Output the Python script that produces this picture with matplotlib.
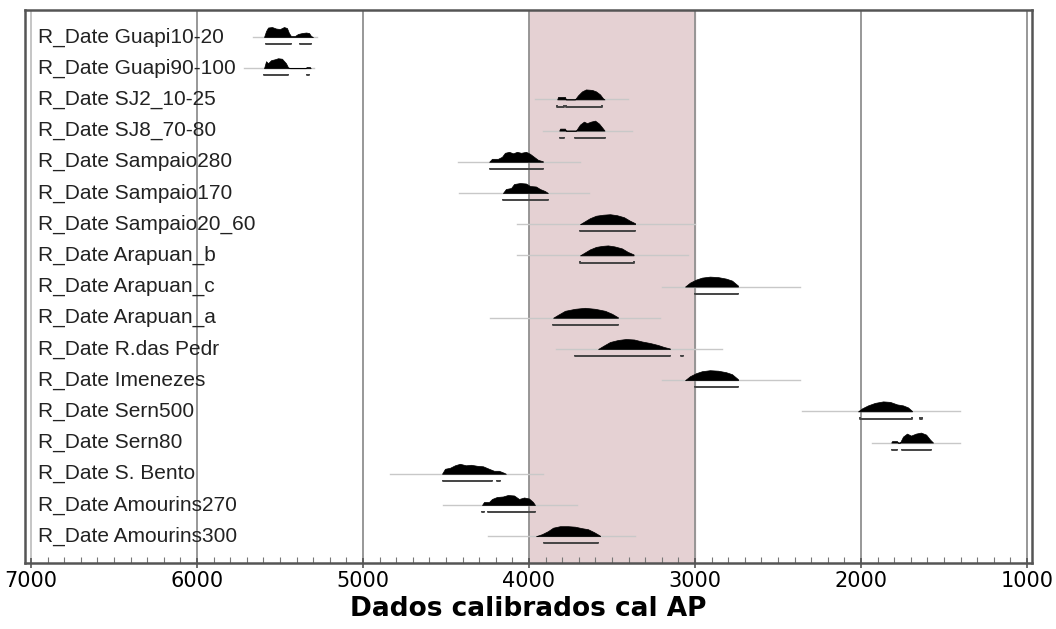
import matplotlib.pyplot as plt
from matplotlib.ticker import MultipleLocator

labels = ['R_Date Guapi10-20', 'R_Date Guapi90-100', 'R_Date SJ2_10-25', 'R_Date SJ8_70-80',
          'R_Date Sampaio280', 'R_Date Sampaio170', 'R_Date Sampaio20_60', 'R_Date Arapuan_b',
          'R_Date Arapuan_c', 'R_Date Arapuan_a', 'R_Date R.das Pedr', 'R_Date Imenezes',
          'R_Date Sern500', 'R_Date Sern80', 'R_Date S. Bento', 'R_Date Amourins270',
          'R_Date Amourins300']

# extent of the thin grey line under each distribution (cal BP)
prior_start = [5663, 5717, 3964, 3916, 4428, 4422, 4072, 4072, 3199, 4235, 3837, 3199, 2355, 1934, 4837, 4518, 4247]
prior_end = [5277, 5295, 3404, 3380, 3693, 3639, 3000, 3042, 2367, 3211, 2837, 2367, 1404, 1404, 3916, 3711, 3361]

# probability profiles: years and relative heights
profile_years = [
    [5596, 5584, 5572, 5548, 5524, 5500, 5476, 5458, 5446, 5434, 5410, 5392, 5367, 5343, 5325, 5313, 5301],
    [5596, 5584, 5572, 5554, 5530, 5512, 5488, 5464, 5452, 5440, 5345, 5340, 5320, 5315],
    [3830, 3825, 3783, 3778, 3723, 3705, 3681, 3657, 3620, 3596, 3572, 3554, 3545],
    [3818, 3813, 3783, 3778, 3717, 3693, 3669, 3651, 3627, 3602, 3578, 3554, 3545],
    [4240, 4223, 4187, 4163, 4145, 4120, 4096, 4072, 4048, 4018, 3994, 3970, 3946, 3916],
    [4157, 4139, 4108, 4090, 4054, 4018, 3994, 3958, 3934, 3904, 3886],
    [3693, 3663, 3633, 3596, 3554, 3512, 3470, 3428, 3392, 3361],
    [3693, 3663, 3633, 3596, 3560, 3525, 3485, 3440, 3405, 3370],
    [3060, 3030, 2994, 2958, 2910, 2861, 2813, 2777, 2741],
    [3855, 3825, 3783, 3723, 3663, 3602, 3542, 3500, 3464],
    [3584, 3554, 3512, 3464, 3416, 3367, 3319, 3271, 3223, 3187, 3151],
    [3060, 3030, 2994, 2958, 2910, 2861, 2813, 2777, 2741],
    [2018, 1994, 1958, 1916, 1867, 1825, 1783, 1747, 1717, 1693],
    [1818, 1813, 1783, 1778, 1765, 1747, 1723, 1699, 1669, 1639, 1608, 1584, 1566],
    [4524, 4506, 4476, 4446, 4416, 4380, 4349, 4313, 4277, 4241, 4211, 4181, 4151, 4139],
    [4283, 4271, 4241, 4223, 4193, 4157, 4127, 4090, 4060, 4030, 4000, 3976, 3964],
    [3958, 3922, 3886, 3855, 3813, 3765, 3723, 3681, 3645, 3608, 3572],
]
profile_heights = [
    [0, 0.6, 0.95, 1.0, 0.85, 0.8, 1.0, 0.9, 0.4, 0.1, 0.1, 0.3, 0.4, 0.45, 0.4, 0.1, 0],
    [0, 0.7, 0.5, 0.8, 0.9, 1.0, 0.95, 0.5, 0.1, 0, 0, 0.12, 0.12, 0],
    [0, 0.25, 0.25, 0, 0, 0.4, 0.8, 1.0, 0.95, 0.8, 0.5, 0.1, 0],
    [0, 0.2, 0.2, 0, 0, 0.6, 0.9, 0.75, 0.9, 1.0, 0.7, 0.2, 0],
    [0, 0.3, 0.3, 0.5, 0.9, 1.0, 0.85, 1.0, 0.9, 1.0, 0.8, 0.5, 0.2, 0.05],
    [0, 0.4, 0.5, 0.9, 1.0, 0.95, 0.7, 0.65, 0.4, 0.2, 0],
    [0, 0.3, 0.6, 0.85, 0.95, 1.0, 0.9, 0.7, 0.35, 0.1],
    [0, 0.3, 0.6, 0.85, 0.95, 1.0, 0.9, 0.7, 0.35, 0.1],
    [0, 0.4, 0.7, 0.9, 1.0, 0.95, 0.8, 0.6, 0.1],
    [0, 0.3, 0.7, 0.9, 1.0, 0.9, 0.7, 0.4, 0.05],
    [0, 0.3, 0.7, 0.9, 1.0, 0.95, 0.75, 0.6, 0.4, 0.2, 0.05],
    [0, 0.4, 0.7, 0.9, 1.0, 0.95, 0.8, 0.6, 0.1],
    [0, 0.3, 0.6, 0.85, 1.0, 0.95, 0.7, 0.6, 0.4, 0.05],
    [0, 0.15, 0.15, 0, 0, 0.6, 0.9, 0.7, 0.9, 1.0, 0.8, 0.3, 0],
    [0, 0.5, 0.6, 0.85, 1.0, 0.85, 0.9, 0.8, 0.75, 0.5, 0.3, 0.3, 0.1, 0],
    [0, 0.3, 0.3, 0.6, 0.8, 0.85, 1.0, 0.95, 0.6, 0.75, 0.65, 0.3, 0],
    [0, 0.2, 0.5, 0.85, 1.0, 1.0, 0.95, 0.8, 0.7, 0.4, 0.05],
]

# 95.4% ranges drawn under each distribution
ranges = [
    [(5584, 5434), (5380, 5313)],
    [(5596, 5452), (5338, 5325)],
    [(3830, 3790), (3780, 3560)],
    [(3813, 3790), (3723, 3542)],
    [(4235, 3916)],
    [(4157, 3886)],
    [(3693, 3361)],
    [(3693, 3370)],
    [(3000, 2741)],
    [(3855, 3464)],
    [(3723, 3150), (3085, 3070)],
    [(3000, 2741)],
    [(2006, 1693), (1645, 1632)],
    [(1813, 1783), (1753, 1578)],
    [(4518, 4223), (4190, 4175)],
    [(4283, 4270), (4247, 3964)],
    [(3910, 3584)],
]

fig = plt.figure(figsize=(10.56, 6.29), dpi=100)
ax = fig.add_axes([25 / 1056, 1 - 563 / 629, 1007 / 1056, 553 / 629])

ax.axvspan(4000, 3000, color='#e5d1d3', zorder=0)
for yr in [6000, 5000, 4000, 3000, 2000, 1000]:
    ax.axvline(yr, color='#909090', lw=1.3, zorder=1)
ax.axvline(7000, color='#c0c0c0', lw=1.3, zorder=1)

hscale = 0.32
for i, lab in enumerate(labels):
    ax.text(0.013, i, lab, transform=ax.get_yaxis_transform(), ha='left', va='center',
            fontsize=15, family='Liberation Sans', color='#222222')
    ax.plot([prior_start[i], prior_end[i]], [i, i], color='#c8c8c8', lw=1, zorder=2)
    ys = [i - h * hscale for h in profile_heights[i]]
    ax.fill_between(profile_years[i], i, ys, color='black', lw=0.5, zorder=3)
    yb = i + 0.23
    for a, b in ranges[i]:
        ax.plot([a, a, b, b], [yb - 0.04, yb, yb, yb - 0.04], color='#444444', lw=1.4,
                solid_capstyle='butt', zorder=3)

ax.set_xlim(7036, 970)
ax.set_ylim(16.86, -0.866)
ax.set_yticks([])
ax.xaxis.set_major_locator(MultipleLocator(1000))
ax.xaxis.set_minor_locator(MultipleLocator(100))
ax.tick_params(axis='x', which='major', direction='inout', length=7, width=1.2,
               color='#555555', labelsize=15, pad=2)
ax.tick_params(axis='x', which='minor', direction='in', length=4, width=0.8, color='#777777')
for s in ax.spines.values():
    s.set_color('#555555')
    s.set_linewidth(1.8)

ax.set_xlabel('Dados calibrados cal AP', fontsize=19, fontweight='bold', labelpad=4)

fig.savefig('out.png', dpi=100)
